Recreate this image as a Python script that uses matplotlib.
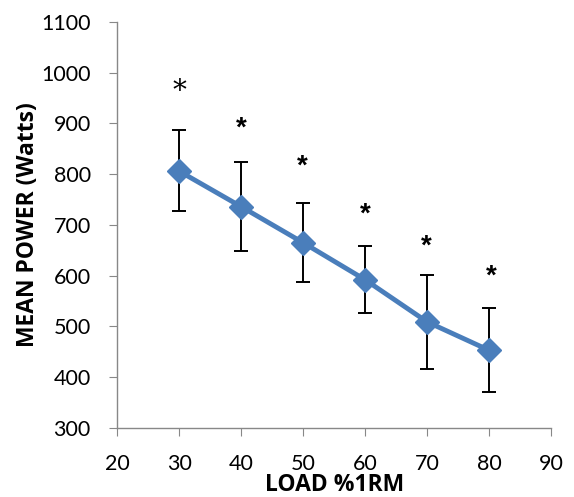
import matplotlib.pyplot as plt

load = [30, 40, 50, 60, 70, 80]
power = [806, 736, 665, 592, 509, 453]
err_up = [80, 87, 78, 67, 93, 83]
err_down = [78, 87, 78, 66, 93, 83]

star_x = [30, 40, 49.8, 60, 69.8, 80.4]
star_y = [962, 890, 815, 721, 657, 598]

plt.rcParams['font.family'] = ['Lato', 'DejaVu Sans']

fig = plt.figure(figsize=(5.74, 4.97), dpi=100)
ax = fig.add_axes([0.204, 0.139, 0.756, 0.817])

ax.errorbar(load, power, yerr=[err_down, err_up], fmt='none', ecolor='black',
            elinewidth=1.4, capsize=5, capthick=1.4, zorder=2)
ax.plot(load, power, color='#4A7EBB', linewidth=3.5, marker='D', markersize=12,
        zorder=3)

for i, (sx, sy) in enumerate(zip(star_x, star_y)):
    if i == 0:
        ax.text(sx, sy, '*', ha='center', va='center', fontsize=20, family=['DejaVu Serif'])
    else:
        ax.text(sx, sy, '*', ha='center', va='center', fontsize=20,
                family=['Liberation Sans'], fontweight='bold')

ax.set_xlim(20, 90)
ax.set_ylim(300, 1100)
ax.set_xticks(range(20, 91, 10))
ax.set_yticks(range(300, 1101, 100))

for s in ['top', 'right']:
    ax.spines[s].set_visible(False)
for s in ['left', 'bottom']:
    ax.spines[s].set_color('#888888')
    ax.spines[s].set_linewidth(1)
ax.tick_params(axis='both', colors='#888888', labelcolor='black', labelsize=15.5,
               length=6, direction='out')
ax.tick_params(axis='x', pad=13)
ax.tick_params(axis='y', pad=13)

ax.set_xlabel('LOAD %1RM', fontsize=16.5, fontweight='bold', labelpad=-1,
              family=['Open Sans'])
ax.set_ylabel('MEAN POWER (Watts)', fontsize=16.5, fontweight='bold', labelpad=1,
              family=['Open Sans'])

fig.savefig('out.png', dpi=100)
